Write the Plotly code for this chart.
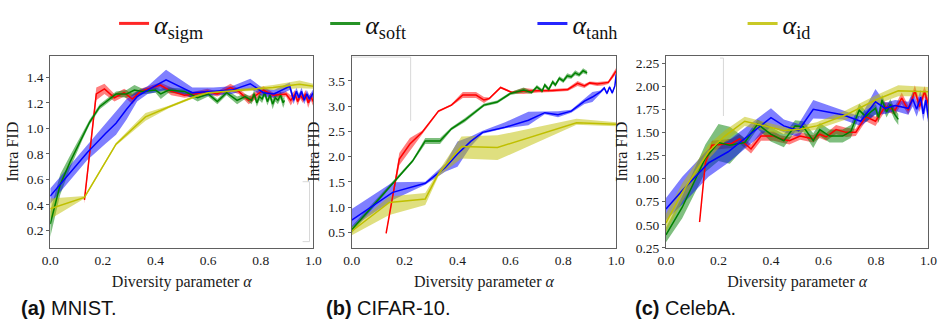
import plotly.graph_objects as go

# ---------------- data ----------------
# Panel (a) MNIST
a_sigm_x = [0.13, 0.175, 0.206, 0.244, 0.281, 0.312, 0.343, 0.418, 0.46, 0.51, 0.549, 0.597, 0.634, 0.685, 0.716, 0.754, 0.81, 0.847, 0.896, 0.914, 0.93, 0.94, 0.95, 0.96, 0.97, 0.98, 0.99, 1.0]
a_sigm_y = [0.44, 1.27, 1.31, 1.24, 1.28, 1.23, 1.29, 1.34, 1.29, 1.26, 1.27, 1.29, 1.27, 1.32, 1.29, 1.22, 1.30, 1.26, 1.27, 1.22, 1.27, 1.21, 1.26, 1.23, 1.27, 1.20, 1.25, 1.21]
a_sigm_e = [0.03, 0.05, 0.04, 0.03, 0.03, 0.04, 0.02, 0.02, 0.03, 0.02, 0.02, 0.02, 0.02, 0.03, 0.02, 0.03, 0.03, 0.02, 0.02, 0.04, 0.03, 0.03, 0.03, 0.03, 0.03, 0.04, 0.03, 0.04]

a_soft_x = [0, 0.038, 0.076, 0.12, 0.15, 0.188, 0.25, 0.29, 0.32, 0.35, 0.4, 0.42, 0.45, 0.51, 0.56, 0.6, 0.635, 0.67, 0.71, 0.74, 0.765, 0.775, 0.785, 0.795, 0.805, 0.815, 0.825, 0.835, 0.845, 0.855, 0.865, 0.875, 0.885, 0.89]
a_soft_y = [0.25, 0.56, 0.74, 0.93, 1.05, 1.17, 1.27, 1.27, 1.30, 1.29, 1.30, 1.27, 1.30, 1.29, 1.24, 1.27, 1.21, 1.28, 1.22, 1.25, 1.22, 1.27, 1.20, 1.25, 1.23, 1.28, 1.21, 1.26, 1.19, 1.24, 1.22, 1.26, 1.20, 1.22]
a_soft_e = [0.10, 0.08, 0.05, 0.03, 0.02, 0.02, 0.02, 0.03, 0.04, 0.02, 0.02, 0.04, 0.02, 0.02, 0.03, 0.02, 0.02, 0.02, 0.03, 0.02, 0.03, 0.03, 0.03, 0.03, 0.03, 0.03, 0.03, 0.03, 0.04, 0.03, 0.03, 0.03, 0.04, 0.03]

a_tanh_x = [0, 0.07, 0.14, 0.21, 0.25, 0.29, 0.33, 0.37, 0.44, 0.54, 0.62, 0.69, 0.76, 0.81, 0.85, 0.88, 0.91, 0.925, 0.935, 0.945, 0.955, 0.965, 0.975, 0.985, 1.0]
a_tanh_y = [0.47, 0.64, 0.81, 0.96, 1.04, 1.15, 1.25, 1.30, 1.38, 1.28, 1.29, 1.30, 1.35, 1.28, 1.27, 1.30, 1.33, 1.22, 1.29, 1.24, 1.29, 1.22, 1.27, 1.23, 1.28]
a_tanh_e = [0.06, 0.06, 0.06, 0.08, 0.09, 0.08, 0.04, 0.03, 0.08, 0.04, 0.03, 0.03, 0.04, 0.03, 0.03, 0.03, 0.03, 0.03, 0.03, 0.03, 0.03, 0.03, 0.03, 0.03, 0.03]

a_id_x = [0, 0.13, 0.25, 0.362, 0.45, 0.51, 0.55, 0.6, 0.72, 0.847, 0.947, 1.0]
a_id_y = [0.37, 0.46, 0.877, 1.09, 1.168, 1.218, 1.25, 1.28, 1.30, 1.32, 1.345, 1.33]
a_id_e = [0.08, 0.01, 0.01, 0.03, 0.01, 0.01, 0.01, 0.01, 0.01, 0.02, 0.03, 0.02]

# Panel (b) CIFAR-10
b_sigm_x = [0.13, 0.18, 0.22, 0.266, 0.328, 0.377, 0.42, 0.47, 0.5, 0.52, 0.563, 0.606, 0.65, 0.705, 0.76, 0.817, 0.854, 0.88, 0.9, 0.928, 0.95, 0.97, 0.985, 1.0]
b_sigm_y = [0.48, 1.95, 2.25, 2.48, 2.90, 3.02, 3.22, 3.22, 3.12, 3.15, 3.37, 3.27, 3.30, 3.30, 3.31, 3.33, 3.45, 3.40, 3.46, 3.44, 3.45, 3.47, 3.58, 3.70]
b_sigm_e = [0.02, 0.12, 0.12, 0.03, 0.02, 0.02, 0.06, 0.06, 0.06, 0.02, 0.02, 0.02, 0.06, 0.03, 0.03, 0.03, 0.05, 0.04, 0.03, 0.04, 0.04, 0.03, 0.05, 0.06]

b_soft_x = [0, 0.155, 0.23, 0.278, 0.334, 0.377, 0.427, 0.5, 0.55, 0.6, 0.65, 0.68, 0.70, 0.72, 0.73, 0.745, 0.76, 0.77, 0.785, 0.80, 0.815, 0.83, 0.845, 0.86, 0.875, 0.89]
b_soft_y = [0.55, 1.47, 1.91, 2.31, 2.31, 2.55, 2.72, 3.02, 3.08, 3.25, 3.32, 3.27, 3.38, 3.30, 3.42, 3.33, 3.48, 3.42, 3.55, 3.50, 3.60, 3.58, 3.66, 3.62, 3.70, 3.66]
b_soft_e = [0.07, 0.03, 0.03, 0.06, 0.06, 0.03, 0.04, 0.03, 0.03, 0.03, 0.05, 0.03, 0.04, 0.04, 0.04, 0.04, 0.04, 0.04, 0.04, 0.04, 0.05, 0.04, 0.05, 0.04, 0.05, 0.04]

b_tanh_x = [0, 0.155, 0.278, 0.353, 0.40, 0.45, 0.495, 0.58, 0.668, 0.73, 0.78, 0.83, 0.88, 0.91, 0.94, 0.955, 0.965, 0.975, 0.985, 0.995, 1.0]
b_tanh_y = [0.74, 1.29, 1.47, 1.78, 2.05, 2.30, 2.48, 2.58, 2.72, 2.87, 2.83, 2.90, 3.10, 3.18, 3.28, 3.36, 3.25, 3.38, 3.26, 3.40, 3.63]
b_tanh_up = [0.22, 0.20, 0.03, 0.08, 0.25, 0.10, 0.03, 0.10, 0.17, 0.03, 0.07, 0.03, 0.06, 0.10, 0.03, 0.03, 0.03, 0.03, 0.03, 0.03, 0.04]
b_tanh_dn = [0.15, 0.15, 0.03, 0.08, 0.25, 0.10, 0.03, 0.02, 0.10, 0.03, 0.05, 0.03, 0.06, 0.10, 0.03, 0.03, 0.03, 0.03, 0.03, 0.03, 0.04]

b_id_x = [0, 0.142, 0.278, 0.328, 0.415, 0.551, 0.85, 1.0]
b_id_y = [0.52, 1.09, 1.16, 1.66, 2.20, 2.18, 2.67, 2.64]
b_id_up = [0.08, 0.12, 0.12, 0.05, 0.20, 0.24, 0.08, 0.04]
b_id_dn = [0.08, 0.25, 0.12, 0.05, 0.24, 0.25, 0.04, 0.04]

# Panel (c) CelebA
c_sigm_x = [0.128, 0.15, 0.175, 0.25, 0.28, 0.324, 0.362, 0.41, 0.436, 0.47, 0.511, 0.561, 0.586, 0.61, 0.648, 0.686, 0.723, 0.761, 0.798, 0.835, 0.873, 0.898, 0.923, 0.948, 0.966, 0.985, 1.0]
c_sigm_y = [0.53, 1.17, 1.36, 1.38, 1.43, 1.32, 1.46, 1.46, 1.43, 1.41, 1.46, 1.43, 1.48, 1.45, 1.53, 1.50, 1.50, 1.67, 1.62, 1.78, 1.74, 1.87, 1.74, 1.95, 1.78, 1.94, 1.80]
c_sigm_e = [0.02, 0.04, 0.05, 0.05, 0.05, 0.05, 0.05, 0.05, 0.04, 0.04, 0.04, 0.04, 0.04, 0.04, 0.05, 0.05, 0.04, 0.05, 0.05, 0.05, 0.05, 0.06, 0.05, 0.06, 0.06, 0.06, 0.06]

c_soft_x = [0, 0.062, 0.15, 0.2, 0.243, 0.3, 0.349, 0.399, 0.449, 0.492, 0.523, 0.561, 0.586, 0.623, 0.673, 0.704, 0.736, 0.761, 0.78, 0.798, 0.81, 0.823, 0.84, 0.855, 0.87, 0.885]
c_soft_y = [0.39, 0.69, 1.22, 1.39, 1.36, 1.39, 1.59, 1.48, 1.41, 1.57, 1.56, 1.41, 1.53, 1.46, 1.46, 1.51, 1.74, 1.67, 1.72, 1.76, 1.66, 1.85, 1.72, 1.80, 1.70, 1.64]
c_soft_e = [0.08, 0.12, 0.15, 0.20, 0.20, 0.05, 0.05, 0.08, 0.07, 0.06, 0.06, 0.08, 0.07, 0.07, 0.07, 0.07, 0.07, 0.06, 0.06, 0.06, 0.06, 0.06, 0.06, 0.06, 0.06, 0.06]

c_tanh_x = [0, 0.062, 0.162, 0.237, 0.4, 0.449, 0.505, 0.561, 0.673, 0.742, 0.798, 0.835, 0.873, 0.923, 0.94, 0.955, 0.97, 0.98, 0.99, 1.0]
c_tanh_y = [0.67, 0.87, 1.17, 1.29, 1.66, 1.57, 1.52, 1.75, 1.69, 1.62, 1.83, 1.76, 1.79, 1.76, 1.86, 1.75, 1.88, 1.70, 1.85, 1.65]
c_tanh_e = [0.12, 0.15, 0.15, 0.12, 0.10, 0.07, 0.07, 0.10, 0.05, 0.05, 0.14, 0.06, 0.06, 0.07, 0.08, 0.08, 0.08, 0.08, 0.08, 0.08]

c_id_x = [0, 0.062, 0.162, 0.224, 0.3, 0.4, 0.449, 0.505, 0.574, 0.686, 0.798, 0.885, 1.0]
c_id_y = [0.52, 0.85, 1.29, 1.46, 1.62, 1.55, 1.52, 1.53, 1.57, 1.69, 1.85, 1.95, 1.94]
c_id_e = [0.10, 0.10, 0.08, 0.06, 0.05, 0.05, 0.04, 0.04, 0.04, 0.05, 0.05, 0.06, 0.05]

series_names = ["<i>α</i><sub>sigm</sub>", "<i>α</i><sub>soft</sub>", "<i>α</i><sub>tanh</sub>", "<i>α</i><sub>id</sub>"]
captions = ["<b>(a)</b> MNIST.", "<b>(b)</b> CIFAR-10.", "<b>(c)</b> CelebA."]
x_ticks = [0.0, 0.2, 0.4, 0.6, 0.8, 1.0]
y_ticks_a = [0.2, 0.4, 0.6, 0.8, 1.0, 1.2, 1.4]
y_ticks_b = [0.5, 1.0, 1.5, 2.0, 2.5, 3.0, 3.5]
y_ticks_c = [0.25, 0.50, 0.75, 1.00, 1.25, 1.50, 1.75, 2.00, 2.25]

# ---------------- styling ----------------
W, H = 948, 324
LINE_RGB = [(255, 0, 0), (0, 128, 0), (0, 0, 255), (191, 191, 0)]
SERIF = "Liberation Serif"
SANS = "Liberation Sans"

def rgb(c, a=1.0):
    return f"rgba({c[0]},{c[1]},{c[2]},{a})"

panels = [
    dict(series=[(a_sigm_x, a_sigm_y, a_sigm_e, a_sigm_e),
                 (a_soft_x, a_soft_y, a_soft_e, a_soft_e),
                 (a_tanh_x, a_tanh_y, a_tanh_e, a_tanh_e),
                 (a_id_x, a_id_y, a_id_e, a_id_e)],
         yticks=y_ticks_a, yfmt="%.1f", yrange=[0.064, 1.57], px=(43, 311)),
    dict(series=[(b_sigm_x, b_sigm_y, b_sigm_e, b_sigm_e),
                 (b_soft_x, b_soft_y, b_soft_e, b_soft_e),
                 (b_tanh_x, b_tanh_y, b_tanh_up, b_tanh_dn),
                 (b_id_x, b_id_y, b_id_up, b_id_dn)],
         yticks=y_ticks_b, yfmt="%.1f", yrange=[0.19, 4.0], px=(350, 619.3)),
    dict(series=[(c_sigm_x, c_sigm_y, c_sigm_e, c_sigm_e),
                 (c_soft_x, c_soft_y, c_soft_e, c_soft_e),
                 (c_tanh_x, c_tanh_y, c_tanh_e, c_tanh_e),
                 (c_id_x, c_id_y, c_id_e, c_id_e)],
         yticks=y_ticks_c, yfmt="%.2f", yrange=[0.25, 2.33], px=(670, 937.3)),
]

fig = go.Figure()
top_px, bot_px = 54.5, 253.5
ydom = [1 - bot_px / H, 1 - top_px / H]
axis_col = "#606060"

for i, p in enumerate(panels):
    xa = "x" if i == 0 else f"x{i+1}"
    ya = "y" if i == 0 else f"y{i+1}"
    for k, (xs, ys, up, dn) in enumerate(p["series"]):
        hi = [y + u for y, u in zip(ys, up)]
        lo = [y - d for y, d in zip(ys, dn)]
        fig.add_trace(go.Scatter(
            x=list(xs) + list(xs)[::-1], y=hi + lo[::-1],
            fill="toself", fillcolor=rgb(LINE_RGB[k], 0.5),
            line=dict(width=0), mode="lines", hoverinfo="skip",
            showlegend=False, xaxis=xa, yaxis=ya))
    for k, (xs, ys, up, dn) in enumerate(p["series"]):
        fig.add_trace(go.Scatter(
            x=xs, y=ys, mode="lines", line=dict(color=rgb(LINE_RGB[k]), width=1.5),
            showlegend=False, xaxis=xa, yaxis=ya))
    xdom = [p["px"][0] / W, p["px"][1] / W]
    common = dict(showline=True, mirror=True, linecolor=axis_col, linewidth=1,
                  tickcolor=axis_col, showgrid=False, zeroline=False,
                  tickfont=dict(family=SERIF, size=13.5, color="#1a1a1a"))
    fig.layout[("xaxis" if i == 0 else f"xaxis{i+1}")] = dict(
        domain=xdom, anchor=ya, range=[0, 1], tickvals=x_ticks,
        ticktext=[f"{v:.1f}" for v in x_ticks], ticks="",
        title=dict(text="Diversity parameter <i>α</i>", standoff=8,
                   font=dict(family=SERIF, size=16, color="#1a1a1a")), **common)
    fig.layout[("yaxis" if i == 0 else f"yaxis{i+1}")] = dict(
        domain=ydom, anchor=xa, range=p["yrange"], tickvals=p["yticks"],
        ticktext=[p["yfmt"] % v for v in p["yticks"]], ticks="outside", ticklen=3,
        title=dict(text="Intra FID", standoff=4,
                   font=dict(family=SERIF, size=16, color="#1a1a1a")), **common)

# legend-only entries, each in its own legend box
leg_x = [108, 323, 534, 748]
for k, name in enumerate(series_names):
    lname = "legend" if k == 0 else f"legend{k+1}"
    fig.add_trace(go.Scatter(x=[None], y=[None], mode="lines", name=name, legend=lname,
                             line=dict(color=rgb(LINE_RGB[k], 0.85), width=3)))
    fig.layout[lname] = dict(orientation="h", x=leg_x[k] / W, y=1 - 21 / H,
                             xanchor="left", yanchor="middle",
                             font=dict(family=SERIF, size=26, color="#111"),
                             itemwidth=30, bgcolor="rgba(0,0,0,0)", borderwidth=0)

# captions
cap_px = [11, 322, 636]
for cx, txt in zip(cap_px, captions):
    fig.add_annotation(text=txt, xref="paper", yref="paper", x=cx / W, y=1 - 316 / H,
                       xanchor="left", yanchor="middle", showarrow=False,
                       font=dict(family=SANS, size=20, color="#111"))

# faint remnants of cropped legend boxes
gray = "#d8d8d8"
seg = [((300, 185), (307, 185)), ((307, 185), (307, 247)), ((300, 247), (307, 247)),
       ((350, 56), (410, 56)), ((410, 56), (410, 122)),
       ((725, 57), (728.5, 57)), ((728.5, 57), (728.5, 117))]
for (x0, y0), (x1, y1) in seg:
    fig.add_shape(type="line", xref="paper", yref="paper", x0=x0 / W, x1=x1 / W,
                  y0=1 - y0 / H, y1=1 - y1 / H, line=dict(color=gray, width=1))

fig.update_layout(
    width=W, height=H, margin=dict(l=0, r=0, t=0, b=0),
    plot_bgcolor="white", paper_bgcolor="white",
    font=dict(family=SERIF, color="#222"),
    showlegend=True,
)

fig.write_html("out.html")
